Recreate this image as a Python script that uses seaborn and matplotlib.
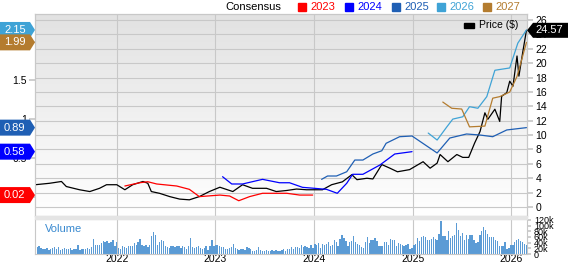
import numpy as np
import pandas as pd
import matplotlib
matplotlib.use("Agg")
import matplotlib.pyplot as plt
import matplotlib.dates as mdates
from matplotlib.colors import LinearSegmentedColormap
from matplotlib.patches import Polygon, Rectangle
import seaborn as sns

# ---------------- data ----------------
price_dates = ["2021-03-05", "2021-04-27", "2021-06-10", "2021-06-28", "2021-08-16", "2021-09-23",
               "2021-10-29", "2021-11-24", "2022-01-01", "2022-01-31", "2022-03-01", "2022-04-08",
               "2022-04-26", "2022-05-09", "2022-06-09", "2022-07-16", "2022-08-22", "2022-09-27",
               "2022-11-03", "2022-12-10", "2023-01-18", "2023-03-07", "2023-04-12", "2023-05-19",
               "2023-07-10", "2023-08-15", "2023-09-23", "2023-10-29", "2023-12-05", "2024-01-04",
               "2024-02-02", "2024-03-07", "2024-04-16", "2024-05-21", "2024-06-09", "2024-07-16",
               "2024-08-07", "2024-09-09", "2024-10-09", "2024-11-06", "2024-12-21", "2025-02-09",
               "2025-03-07", "2025-04-02", "2025-04-13", "2025-05-12", "2025-06-14", "2025-07-06",
               "2025-07-28", "2025-08-19", "2025-09-08", "2025-09-26", "2025-10-07", "2025-11-02",
               "2025-11-20", "2025-11-27", "2025-12-16", "2025-12-27", "2026-01-08", "2026-01-23",
               "2026-01-30", "2026-02-14", "2026-02-27"]
price_vals = [3.1, 3.3, 3.55, 2.85, 2.4, 2.15, 2.6, 3.1, 3.1, 2.4, 3.1, 3.55,
              3.3, 2.15, 1.9, 1.45, 1.1, 1.0, 1.45, 2.15, 2.75, 2.15, 3.1, 2.6,
              2.6, 2.15, 2.3, 2.5, 2.4, 2.4, 2.4, 3.1, 3.5, 4.5, 3.8, 4.0,
              3.9, 5.9, 5.4, 4.9, 5.2, 6.3, 5.4, 6.1, 7.3, 6.3, 7.3, 6.9,
              6.9, 8.9, 10.5, 13.1, 12.2, 13.6, 11.9, 15.4, 15.9, 17.5, 16.8, 21.0,
              18.2, 21.7, 24.57]

eps23_dates = ["2022-01-31", "2022-03-27", "2022-04-26", "2022-05-29", "2022-08-11", "2022-09-27",
               "2022-11-03", "2023-01-18", "2023-02-23", "2023-03-29", "2023-05-08", "2023-06-25",
               "2023-09-23", "2023-11-10", "2023-12-28"]
eps23_vals = [0.137, 0.179, 0.192, 0.163, 0.137, 0.094, 0.0, 0.02, 0.008, -0.053, 0.0, 0.043,
              0.043, 0.02, 0.02]

eps24_dates = ["2023-01-28", "2023-03-03", "2023-04-12", "2023-06-25", "2023-08-27", "2023-10-03",
               "2023-11-20", "2024-01-04", "2024-02-17", "2024-03-28", "2024-05-02", "2024-05-24",
               "2024-07-01", "2024-09-02", "2024-10-27", "2024-12-30"]
eps24_vals = [0.257, 0.163, 0.163, 0.223, 0.179, 0.179, 0.12, 0.107, 0.094, 0.043, 0.172, 0.288,
              0.288, 0.408, 0.55, 0.58]

eps25_dates = ["2024-01-30", "2024-02-21", "2024-03-25", "2024-05-02", "2024-06-01", "2024-07-01",
               "2024-08-07", "2024-09-09", "2024-09-25", "2024-11-14", "2024-12-30", "2025-04-02",
               "2025-05-19", "2025-07-20", "2025-09-07", "2025-10-25", "2025-12-16", "2026-02-27"]
eps25_vals = [0.223, 0.266, 0.266, 0.321, 0.472, 0.472, 0.55, 0.592, 0.688, 0.773, 0.782, 0.563,
              0.756, 0.808, 0.795, 0.773, 0.86, 0.89]

eps26_dates = ["2025-02-28", "2025-04-02", "2025-05-08", "2025-05-30", "2025-07-06", "2025-07-31",
               "2025-08-31", "2025-10-03", "2025-11-02", "2025-12-27", "2026-01-26", "2026-02-27"]
eps26_vals = [0.82, 0.73, 0.90, 1.0, 1.03, 1.16, 1.14, 1.29, 1.63, 1.66, 1.98, 2.15]

eps27_dates = ["2025-04-23", "2025-05-26", "2025-07-02", "2025-07-31", "2025-09-26", "2025-10-25",
               "2025-11-20", "2025-12-27", "2026-01-23", "2026-02-27"]
eps27_vals = [1.22, 1.14, 1.13, 0.90, 0.91, 1.27, 1.29, 1.35, 1.55, 1.99]

volume_k = [31, 25, 29, 21, 19, 18, 21, 15, 19, 21, 24, 19, 24, 15, 18, 20, 19, 18, 21, 15,
            19, 18, 33, 15, 19, 18, 19, 20, 19, 24, 54, 33, 31, 31, 39, 45, 42, 45, 39, 42,
            48, 27, 44, 21, 19, 27, 25, 21, 29, 29, 29, 39, 31, 42, 54, 33, 27, 33, 25, 33,
            62, 77, 68, 33, 41, 51, 47, 27, 25, 21, 29, 27, 24, 29, 27, 21, 27, 25, 19, 29,
            56, 25, 21,
            25, 29, 21, 18, 21, 27, 15, 29, 48, 29, 31, 33, 27, 25, 25, 19, 19, 21, 25, 36,
            20, 19, 15, 18, 19, 15, 24, 21, 19, 12, 12, 15, 24, 15, 12, 9, 13, 12, 12, 13,
            12, 13, 12, 9, 15, 19, 12, 19, 18, 24, 19, 25, 24, 21, 33, 24, 27, 24, 21, 33,
            21, 36, 31, 39, 21, 35, 33, 35, 41, 29, 33, 48, 41, 29, 54, 68, 56, 45, 27, 42,
            45, 62, 42, 35, 33,
            25, 21, 41, 59, 39, 48, 48, 56, 45, 29, 29, 29, 42, 41, 33, 53, 51, 48, 29, 39,
            36, 33, 27, 31, 35, 18, 21, 31, 36, 56, 45, 60, 65, 60, 48, 48, 53, 60, 53, 48,
            72, 115, 65, 65, 48, 80, 56, 65, 66, 110, 86, 62, 74, 51, 68, 53, 68, 68, 51, 39,
            41, 68, 80, 94, 86, 72, 60, 59, 60, 51, 45, 29, 27, 29, 41, 19, 21, 31, 31, 42,
            51, 54, 45, 41, 35, 33]
volume_start, volume_end = "2021-03-05", "2026-02-27"

tag_labels = ["2.15", "1.99", "0.89", "0.58", "0.02"]
tag_values = [2.15, 1.99, 0.89, 0.58, 0.02]
legend_years = ["2023", "2024", "2025", "2026", "2027"]
price_last = 24.57
year_ticks = ["2022", "2023", "2024", "2025", "2026"]
eps_ticks = [0, 0.5, 1, 1.5, 2]
eps_tick_labels = ["", "0.5", "1", "1.5", ""]   # 0 and 2 sit under the value tags
price_ticks = list(range(0, 27, 2))
vol_ticks = [0, 20, 40, 60, 80, 100, 120]
vol_tick_labels = ["0", "20k", "40k", "60k", "80k", "100k", "120k"]

# ---------------- style ----------------
C23, C24, C25, C26, C27 = "#ff0000", "#0000ff", "#1f5fb4", "#3fa3d6", "#b47c2f"
year_colors = [C23, C24, C25, C26, C27]
tag_colors = [C26, C27, C25, C24, C23]
GRID = "#c8c8c8"

sns.set_theme(style="white")
plt.rcParams["font.family"] = ["Liberation Sans", "DejaVu Sans"]

W, H = 568, 264
fig = plt.figure(figsize=(W / 100, H / 100), dpi=100)
L, R, T, B = 35, 527, 14, 216
ax = fig.add_axes([L / W, 1 - B / H, (R - L) / W, (B - T) / H])
axv = fig.add_axes([L / W, 1 - 254 / H, (R - L) / W, (254 - 219) / H], sharex=ax)
ax2 = ax.twinx()

xmin, xmax = pd.Timestamp("2021-03-04"), pd.Timestamp("2026-03-01")

# gradient background
cmap = LinearSegmentedColormap.from_list("bg", ["#e2e2e2", "#ffffff"])
ax.imshow(np.linspace(0, 1, 256).reshape(-1, 1), cmap=cmap, aspect="auto",
          extent=[0, 1, 0, 1], transform=ax.transAxes, zorder=0)

# price
pdf = pd.DataFrame({"date": pd.to_datetime(price_dates), "price": price_vals})
sns.lineplot(data=pdf, x="date", y="price", ax=ax, color="black", lw=0.9, zorder=3)

# eps lines
for d, v, c in [(eps23_dates, eps23_vals, C23), (eps24_dates, eps24_vals, C24),
                (eps25_dates, eps25_vals, C25), (eps26_dates, eps26_vals, C26),
                (eps27_dates, eps27_vals, C27)]:
    df = pd.DataFrame({"date": pd.to_datetime(d), "eps": v})
    sns.lineplot(data=df, x="date", y="eps", ax=ax2, color=c, lw=0.9)

# axes config
ax.set_xlim(xmin, xmax)
ax.set_ylim(-1.25, 26.84)
ax2.set_ylim(-0.25, 2.356)
ax.yaxis.tick_right()
ax.yaxis.set_label_position("right")
ax2.yaxis.tick_left()
ax2.yaxis.set_label_position("left")
ax.set_yticks(price_ticks)
ax.set_yticklabels([str(v) for v in price_ticks])
ax2.set_yticks(eps_ticks)
ax2.set_yticklabels(eps_tick_labels)
for a in (ax, ax2):
    a.set_xlabel("")
    a.set_ylabel("")
    a.tick_params(axis="y", labelsize=7.5, length=4, color=GRID, pad=2, labelcolor="black")
ax.tick_params(axis="x", labelbottom=False, length=0)
ax2.tick_params(axis="x", labelbottom=False, length=0)
ax.grid(True, axis="y", color=GRID, lw=0.8)
ax.set_xticks(pd.to_datetime([y + "-01-01" for y in year_ticks]))
ax.grid(True, axis="x", color=GRID, lw=0.8)
for a in (ax, ax2):
    for s in a.spines.values():
        s.set_color(GRID)
        s.set_linewidth(0.8)

# volume
vdates = pd.date_range(volume_start, volume_end, periods=len(volume_k))
axv.bar(vdates, volume_k, width=5.0, color="#5b9bd5", edgecolor="none", zorder=2)
axv.set_ylim(0, 123.5)
axv.set_xlim(xmin, xmax)
axv.yaxis.tick_right()
axv.set_yticks(vol_ticks)
axv.set_yticklabels(vol_tick_labels)
axv.tick_params(axis="y", labelsize=6.5, length=3, color=GRID, pad=2, labelcolor="black")
axv.set_xticks(pd.to_datetime([y + "-01-01" for y in year_ticks]))
axv.set_xticklabels(year_ticks)
axv.tick_params(axis="x", labelsize=7.5, length=0, pad=0, labelcolor="black")
axv.grid(True, axis="x", color=GRID, lw=0.8, zorder=0)
axv.set_axisbelow(True)
axv.set_facecolor("white")
for s in axv.spines.values():
    s.set_color(GRID)
    s.set_linewidth(0.8)
axv.text(0.02, 0.7, "Volume", transform=axv.transAxes, color="#3a8ad0",
         fontsize=8, va="center", ha="left")

# separator band
fig.patches.append(Rectangle((L / W, 1 - 219 / H), (R - L) / W, 3 / H,
                             transform=fig.transFigure, color="#e4e4e4", zorder=5))


def fy(px):
    return 1 - px / H


def fx(px):
    return px / W


# left tags
fig.canvas.draw()
for lab, val, col in zip(tag_labels, tag_values, tag_colors):
    disp = ax2.transData.transform([[mdates.date2num(xmin), val]])[0][1]
    yc = H - disp
    h = 16
    pts = [(0, yc - h / 2), (30, yc - h / 2), (35, yc), (30, yc + h / 2), (0, yc + h / 2)]
    fig.patches.append(Polygon([(fx(x), fy(y)) for x, y in pts], closed=True,
                               transform=fig.transFigure, facecolor=col, edgecolor="none",
                               zorder=10))
    fig.text(fx(4), fy(yc), lab, color="white", fontsize=8, va="center", ha="left", zorder=11)

# right price tag
disp = ax.transData.transform([[mdates.date2num(xmin), price_last]])[0][1]
yc = H - disp
h = 15
pts = [(527, yc), (533, yc - h / 2), (568, yc - h / 2), (568, yc + h / 2), (533, yc + h / 2)]
fig.patches.append(Polygon([(fx(x), fy(y)) for x, y in pts], closed=True,
                           transform=fig.transFigure, facecolor="black", edgecolor="none",
                           zorder=10))
fig.text(fx(535), fy(yc), f"{price_last:.2f}", color="white", fontsize=8, va="center",
         ha="left", zorder=11)

# price legend inside
fig.patches.append(Rectangle((fx(464), fy(28)), 10 / W, 5 / H, transform=fig.transFigure,
                             color="black", zorder=10))
fig.text(fx(479), fy(25.5), "Price ($)", color="black", fontsize=7.5, va="center", ha="left")

# top legend
fig.text(fx(225), fy(6.5), "Consensus", color="black", fontsize=8, va="center", ha="left")
sq_x = [298, 345, 392, 437, 483]
for yr, col, x in zip(legend_years, year_colors, sq_x):
    fig.patches.append(Rectangle((fx(x), fy(10.5)), 8 / W, 8 / H, transform=fig.transFigure,
                                 color=col, zorder=10))
    fig.text(fx(x + 12), fy(6.5), yr, color=col, fontsize=8, va="center", ha="left")

fig.savefig("out.png", dpi=100)
